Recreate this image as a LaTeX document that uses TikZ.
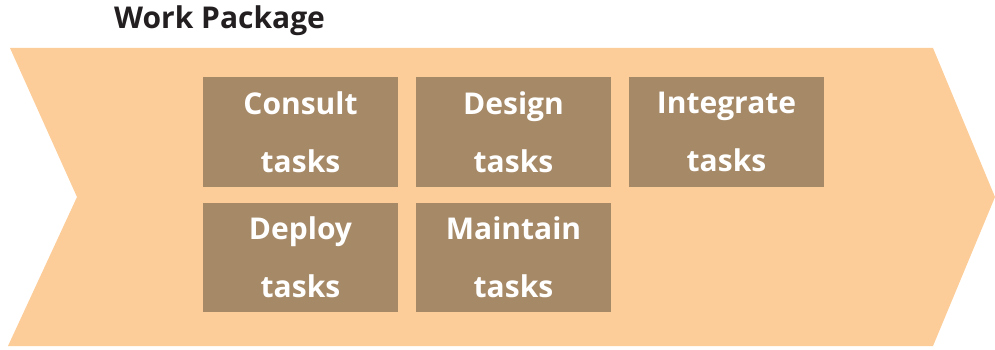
\documentclass[tikz,border=0pt]{standalone}
\usepackage{fontspec}
\setmainfont{Open Sans}
\definecolor{chevronfill}{HTML}{FCCD98}
\definecolor{taskfill}{HTML}{A68966}
\definecolor{titleink}{HTML}{231F20}
\begin{document}
\begin{tikzpicture}[x=1pt,y=-1pt,
  taskbox/.style={fill=taskfill, text=white, minimum width=195pt, minimum height=109pt,
    inner sep=0pt, align=center, font=\bfseries\fontsize{30}{58}\selectfont},
  title/.style={text=titleink, inner sep=0pt, font=\bfseries\fontsize{30}{34}\selectfont}]
  \useasboundingbox (0,0) rectangle (995,350);
  % chevron background
  \fill[chevronfill] (10,48) -- (933,48) -- (995,197) -- (933,346) -- (8,346) -- (77,197) -- cycle;
  % heading
  \node[title, anchor=base west] (head) at (114,29) {Work Package};
  % task boxes, two rows
  \node[taskbox] (consult)   at (300.5,132) {Consult\\tasks};
  \node[taskbox] (design)    at (513.5,132) {Design\\tasks};
  \node[taskbox] (integrate) at (726.5,132) {Integrate\\tasks};
  \node[taskbox] (deploy)    at (300.5,257) {Deploy\\tasks};
  \node[taskbox] (maintain)  at (513.5,257) {Maintain\\tasks};
\end{tikzpicture}
\end{document}
